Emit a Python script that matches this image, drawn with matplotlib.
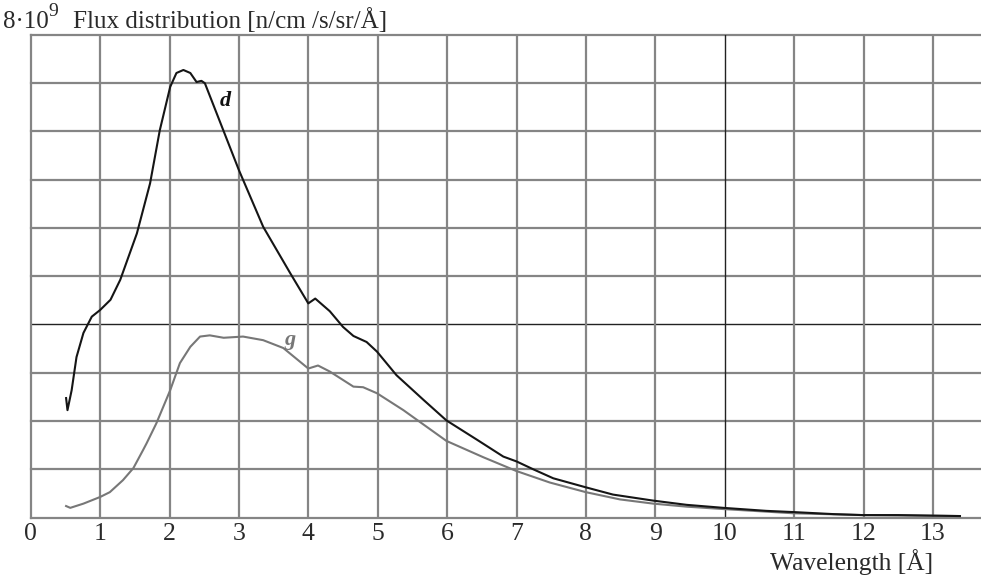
import numpy as np
import matplotlib
matplotlib.use("Agg")
import matplotlib.pyplot as plt

plt.rcParams["font.family"] = ["Liberation Serif", "DejaVu Serif"]

# wavelength [Å] and flux [1e9 n/cm2/s/sr/Å]
wl_d = [0.51, 0.53, 0.59, 0.66, 0.76, 0.88, 1.00, 1.15, 1.29, 1.53, 1.72, 1.86,
        2.01, 2.10, 2.20, 2.30, 2.39, 2.46, 2.51, 2.68, 3.00, 3.35, 3.74, 4.00,
        4.10, 4.31, 4.50, 4.65, 4.84, 4.99, 5.27, 5.66, 5.99, 6.43, 6.81, 7.00,
        7.24, 7.53, 8.00, 8.39, 8.97, 9.45, 9.98, 10.6, 10.99, 11.57, 11.99,
        12.5, 13.39]
flux_d = [1.98, 1.78, 2.11, 2.66, 3.06, 3.33, 3.44, 3.61, 3.94, 4.71, 5.54, 6.42,
          7.14, 7.37, 7.42, 7.37, 7.22, 7.24, 7.20, 6.70, 5.76, 4.82, 4.05, 3.55,
          3.63, 3.42, 3.16, 3.01, 2.91, 2.75, 2.36, 1.95, 1.61, 1.29, 1.01, 0.93,
          0.80, 0.65, 0.50, 0.38, 0.28, 0.21, 0.16, 0.11, 0.09, 0.056, 0.04,
          0.04, 0.024]

wl_g = [0.51, 0.57, 0.76, 1.00, 1.14, 1.33, 1.48, 1.62, 1.67, 1.81, 2.01, 2.15,
        2.30, 2.44, 2.58, 2.78, 3.06, 3.35, 3.64, 4.00, 4.14, 4.31, 4.65, 4.79,
        4.99, 5.37, 5.99, 6.52, 7.00, 7.48, 8.00, 8.49, 8.97, 9.45, 9.98, 10.99,
        11.99, 13.39]
flux_g = [0.19, 0.16, 0.23, 0.34, 0.42, 0.62, 0.82, 1.12, 1.23, 1.56, 2.11, 2.56,
          2.83, 3.00, 3.02, 2.98, 3.00, 2.94, 2.81, 2.47, 2.52, 2.42, 2.17, 2.16,
          2.06, 1.78, 1.27, 1.00, 0.77, 0.58, 0.42, 0.30, 0.23, 0.18, 0.14, 0.07,
          0.04, 0.024]

x_ticks = list(range(0, 14))
y_grid = [0.8 * i for i in range(1, 11)]
y_top = 8.0

grid_c = "#858585"
text_c = "#2a2a2a"

fig = plt.figure(figsize=(9.81, 5.82), dpi=100)
ax = fig.add_axes([30.7 / 981, 1 - 517.5 / 582, 1 - 30.7 / 981, (517.5 - 35) / 582])
ax.set_xlim(0, (981 - 30.7) / 69.4)
ax.set_ylim(0, y_top)

# grid (two of the lines are darker in the original)
for yv in y_grid:
    dark = abs(yv - 3.2) < 1e-6
    ax.axhline(yv, color="#222222" if dark else grid_c, lw=1.0 if dark else 1.6,
               zorder=1, clip_on=False)
for xv in x_ticks[1:]:
    dark = xv == 10
    ax.axvline(xv, color="#222222" if dark else grid_c, lw=1.0 if dark else 1.6, zorder=1)

ax.plot(wl_g, flux_g, color="#777777", lw=1.5, zorder=3)
ax.plot(wl_d, flux_d, color="#151515", lw=1.5, zorder=4)

ax.text(2.81, 6.91, "d", fontsize=16, fontweight="bold", fontstyle="italic",
        color="#111111", ha="center", va="center")
ax.text(3.73, 2.94, "g", fontsize=16, fontweight="bold", fontstyle="italic",
        color="#777777", ha="center", va="center")

for side in ["top", "right"]:
    ax.spines[side].set_visible(False)
for side in ["left", "bottom"]:
    ax.spines[side].set_color(grid_c)
    ax.spines[side].set_linewidth(1.6)

ax.set_xticks(x_ticks)
ax.set_xticklabels([str(t) for t in x_ticks])
ax.set_yticks([])
ax.tick_params(axis="x", length=0, pad=4, labelsize=18.5, labelcolor=text_c)

# header: 8·10^9 Flux distribution ...
fig.text(3 / 981, 1 - 28 / 582, "8·10", fontsize=18, ha="left", va="baseline", color=text_c)
fig.text(48 / 981, 1 - 16 / 582, "9", fontsize=14, ha="left", va="baseline", color=text_c)
fig.text(73 / 981, 1 - 28 / 582, "Flux distribution [n/cm /s/sr/Å]", fontsize=18.1,
         ha="left", va="baseline", color=text_c)
fig.text(933 / 981, 1 - 562 / 582, "Wavelength [Å]", fontsize=18.4,
         ha="right", va="center", color=text_c)

fig.savefig("out.png", dpi=100)
